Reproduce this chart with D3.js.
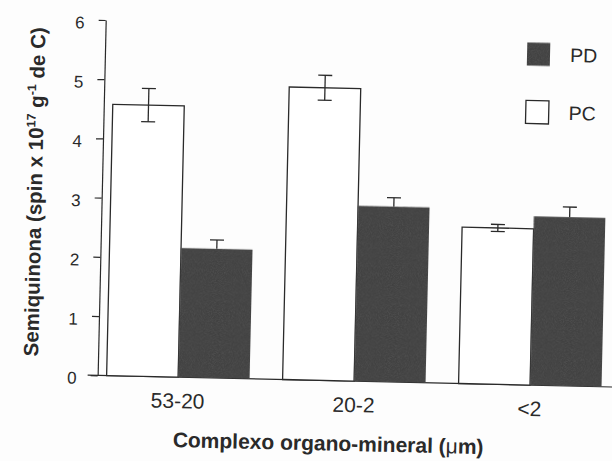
<!DOCTYPE html>
<html>
<head>
<meta charset="utf-8">
<script src="https://cdn.jsdelivr.net/npm/d3@7"></script>
<style>
  html, body { margin: 0; padding: 0; background: #fdfdfd; }
  svg { display: block; }
  text { font-family: "Liberation Sans", Arial, sans-serif; fill: #2a2a2a; }
</style>
</head>
<body>
<svg id="chart" width="612" height="461"></svg>
<script>
// Semiquinone content per organo-mineral size fraction
const categories = ["53-20", "20-2", "<2"];
const seriesNames = ["PC", "PD"];
const pcValues = [4.58, 4.94, 2.64];
const pcErrors = [0.28, 0.21, 0.06];
const pdValues = [2.18, 2.96, 2.85];
const pdErrors = [0.15, 0.15, 0.17];
const yTicks = [0, 1, 2, 3, 4, 5, 6];

const ink = "#2a2a2a";
const darkFill = "#424242";

const svg = d3.select("#chart");
svg.append("rect").attr("width", 612).attr("height", 461).attr("fill", "#fdfdfd");

// printed-toner grain for the dark fills
const defs = svg.append("defs");
const f = defs.append("filter").attr("id", "grain")
  .attr("x", 0).attr("y", 0).attr("width", 1).attr("height", 1);
f.append("feTurbulence").attr("type", "fractalNoise").attr("baseFrequency", 1.1)
  .attr("numOctaves", 1).attr("seed", 7).attr("result", "noise");
f.append("feColorMatrix").attr("in", "noise").attr("type", "matrix")
  .attr("values", "0 0 0 0 0.1  0 0 0 0 0.1  0 0 0 0 0.1  1.4 0 0 0 -0.55")
  .attr("result", "dots");
f.append("feComposite").attr("in", "dots").attr("in2", "SourceGraphic")
  .attr("operator", "in").attr("result", "clipped");
const fm = f.append("feMerge");
fm.append("feMergeNode").attr("in", "SourceGraphic");
fm.append("feMergeNode").attr("in", "clipped");

// the printed figure sits slightly tilted on the page
const g = svg.append("g").attr("transform", "rotate(1.3 306 230)");

const y = d3.scaleLinear().domain([0, 6]).range([380, 24.6]);
const x = d3.scaleBand().domain(categories).range([101, 614])
  .paddingInner(0.1875).paddingOuter(0.051);
const xs = d3.scaleBand().domain(seriesNames).range([0, x.bandwidth()]);

const rows = categories.map((c, i) => ({
  cat: c,
  PC: { v: pcValues[i], e: pcErrors[i] },
  PD: { v: pdValues[i], e: pdErrors[i] }
}));

// y axis
const yAxis = g.append("g").attr("transform", "translate(101,0)")
  .call(d3.axisLeft(y).tickValues(yTicks).tickFormat(d3.format("d"))
    .tickSize(7).tickSizeOuter(0).tickPadding(14));
yAxis.selectAll("path, line").attr("stroke", ink).attr("stroke-width", 1.2);
yAxis.selectAll("text").attr("font-size", 17).attr("fill", ink)
  .attr("font-family", "Liberation Sans, Arial, sans-serif").attr("dy", "0.5em");

// x axis baseline
g.append("line").attr("x1", 91).attr("x2", 625).attr("y1", y(0)).attr("y2", y(0))
  .attr("stroke", ink).attr("stroke-width", 1.2);

const groups = g.selectAll(".grp").data(rows).join("g")
  .attr("class", "grp").attr("transform", d => `translate(${x(d.cat)},0)`);

const capW = 14;
function whisker(sel, key, both) {
  const cx = xs(key) + xs.bandwidth() / 2;
  sel.append("line")
    .attr("x1", cx).attr("x2", cx)
    .attr("y1", d => y(d[key].v + d[key].e)).attr("y2", d => y(both ? d[key].v - d[key].e : d[key].v))
    .attr("stroke", ink).attr("stroke-width", 1.3);
  sel.append("line")
    .attr("x1", cx - capW / 2).attr("x2", cx + capW / 2)
    .attr("y1", d => y(d[key].v + d[key].e)).attr("y2", d => y(d[key].v + d[key].e))
    .attr("stroke", ink).attr("stroke-width", 1.3);
  if (both) {
    sel.append("line")
      .attr("x1", cx - capW / 2).attr("x2", cx + capW / 2)
      .attr("y1", d => y(d[key].v - d[key].e)).attr("y2", d => y(d[key].v - d[key].e))
      .attr("stroke", ink).attr("stroke-width", 1.3);
  }
}

// PD whiskers (upper arm shows above the dark bar)
whisker(groups, "PD", false);

// bars
groups.append("rect")
  .attr("x", xs("PC")).attr("width", xs.bandwidth())
  .attr("y", d => y(d.PC.v)).attr("height", d => y(0) - y(d.PC.v))
  .attr("fill", "#ffffff").attr("stroke", ink).attr("stroke-width", 1.3);
groups.append("rect")
  .attr("x", xs("PD")).attr("width", xs.bandwidth())
  .attr("y", d => y(d.PD.v)).attr("height", d => y(0) - y(d.PD.v))
  .attr("fill", darkFill).attr("filter", "url(#grain)");

// PC whiskers span both directions over the white bar
whisker(groups, "PC", true);

// x tick labels
groups.append("text")
  .attr("x", x.bandwidth() / 2).attr("y", 411)
  .attr("text-anchor", "middle").attr("font-size", 21)
  .text(d => d.cat);

// legend
const legend = [
  { name: "PD", fill: darkFill, stroke: "none", cy: 49, grain: true },
  { name: "PC", fill: "#ffffff", stroke: ink, cy: 107, grain: false }
];
const lg = g.selectAll(".lg").data(legend).join("g").attr("class", "lg");
lg.append("rect").attr("x", 523).attr("y", d => d.cy - 11.5).attr("width", 23).attr("height", 23)
  .attr("fill", d => d.fill).attr("stroke", d => d.stroke).attr("stroke-width", 1.3)
  .attr("filter", d => d.grain ? "url(#grain)" : null);
lg.append("text").attr("x", 566).attr("y", d => d.cy + 7).attr("font-size", 19.5)
  .text(d => d.name);

// axis titles
const xt = g.append("text").attr("x", 333).attr("y", 450).attr("text-anchor", "middle")
  .attr("font-size", 21).attr("font-weight", "bold");
xt.append("tspan").text("Complexo organo-mineral (");
xt.append("tspan").attr("font-weight", "normal").text("μ");
xt.append("tspan").text("m)");

const yt = g.append("text").attr("transform", "translate(41,198) rotate(-90)")
  .attr("text-anchor", "middle").attr("font-size", 20.5).attr("font-weight", "bold");
yt.append("tspan").text("Semiquinona (spin x 10");
yt.append("tspan").attr("font-size", 12.5).attr("dy", -8).text("17");
yt.append("tspan").attr("dy", 8).text(" g");
yt.append("tspan").attr("font-size", 12.5).attr("dy", -8).text("-1");
yt.append("tspan").attr("dy", 8).text(" de C)");
</script>
</body>
</html>
